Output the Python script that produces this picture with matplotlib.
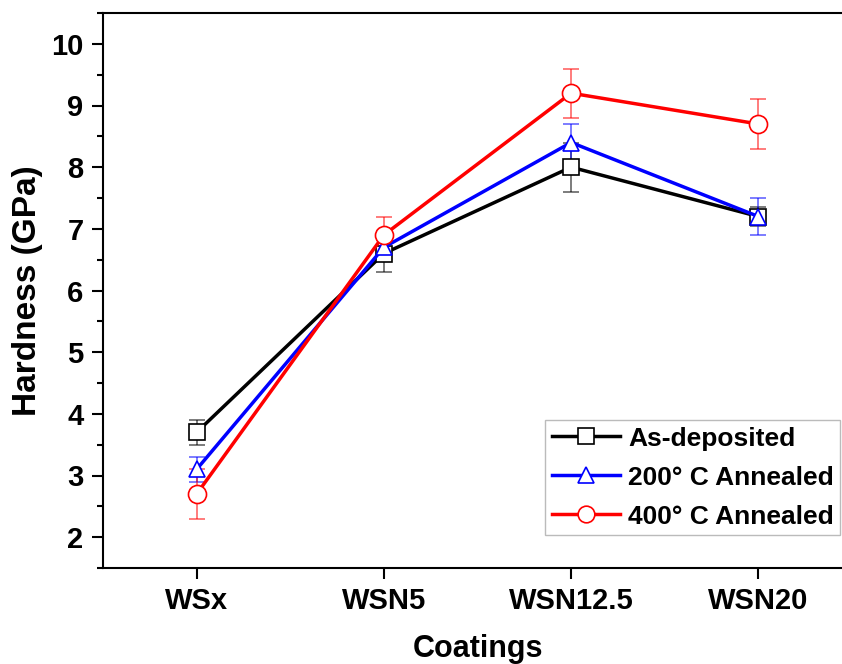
import matplotlib
matplotlib.use("Agg")
import matplotlib.pyplot as plt
from matplotlib.ticker import MultipleLocator

categories = ["WSx", "WSN5", "WSN12.5", "WSN20"]
as_dep = [3.7, 6.6, 8.0, 7.2]
as_dep_err = [0.2, 0.3, 0.4, 0.15]
ann200 = [3.1, 6.7, 8.4, 7.2]
ann200_err = [0.2, 0.2, 0.3, 0.3]
ann400 = [2.7, 6.9, 9.2, 8.7]
ann400_err = [0.4, 0.3, 0.4, 0.4]

plt.rcParams['font.family'] = ['Liberation Sans', 'DejaVu Sans']
plt.rcParams['font.weight'] = 'bold'

fig = plt.figure(figsize=(8.42, 6.64), dpi=100)
ax = fig.add_axes([103/842, 1 - 568/664, (852-103)/842, (568-13)/664])

x = list(range(len(categories)))
series = [
    (as_dep, as_dep_err, 'black', 's', 'As-deposited'),
    (ann200, ann200_err, 'blue', '^', '200° C Annealed'),
    (ann400, ann400_err, 'red', 'o', '400° C Annealed'),
]
for y, e, c, m, lab in series:
    ax.errorbar(x, y, yerr=e, fmt='none', ecolor=c, alpha=0.6, elinewidth=1.2,
                capsize=6, capthick=1.2, zorder=2)
    ax.plot(x, y, color=c, lw=2.5, marker=m, markersize=12 if m != 'o' else 13,
            markerfacecolor='white', markeredgecolor=c, markeredgewidth=1.2,
            label=lab, zorder=3)

ax.set_xlim(-0.5, 3.5)
ax.set_ylim(1.5, 10.5)
ax.set_xticks(x)
ax.set_xticklabels(categories)
ax.yaxis.set_major_locator(MultipleLocator(1))
ax.yaxis.set_minor_locator(MultipleLocator(0.5))
ax.set_yticks(range(2, 11))
ax.tick_params(axis='both', which='major', direction='out', length=8, width=1.5,
               labelsize=21, pad=6)
ax.tick_params(axis='x', which='major', pad=6)
ax.tick_params(axis='y', which='minor', direction='out', length=4, width=1.5)
for lbl in ax.get_xticklabels() + ax.get_yticklabels():
    lbl.set_fontweight('bold')
for s in ax.spines.values():
    s.set_linewidth(1.5)

ax.set_xlabel('Coatings', fontsize=22, fontweight='bold', labelpad=13)
ax.set_ylabel('Hardness (GPa)', fontsize=24, fontweight='bold', labelpad=6)

leg = ax.legend(loc='upper left', bbox_to_anchor=(545/842, 1 - 420/664),
                bbox_transform=fig.transFigure, frameon=True, borderaxespad=0,
                fancybox=False, edgecolor='#aaaaaa', handlelength=2.6,
                borderpad=0.25, labelspacing=0.57, handletextpad=0.3,
                prop={'weight': 'bold', 'size': 19})
leg.get_frame().set_linewidth(1.0)
for h in leg.legend_handles:
    h.set_markersize(12)

fig.savefig('out.png', dpi=100)
